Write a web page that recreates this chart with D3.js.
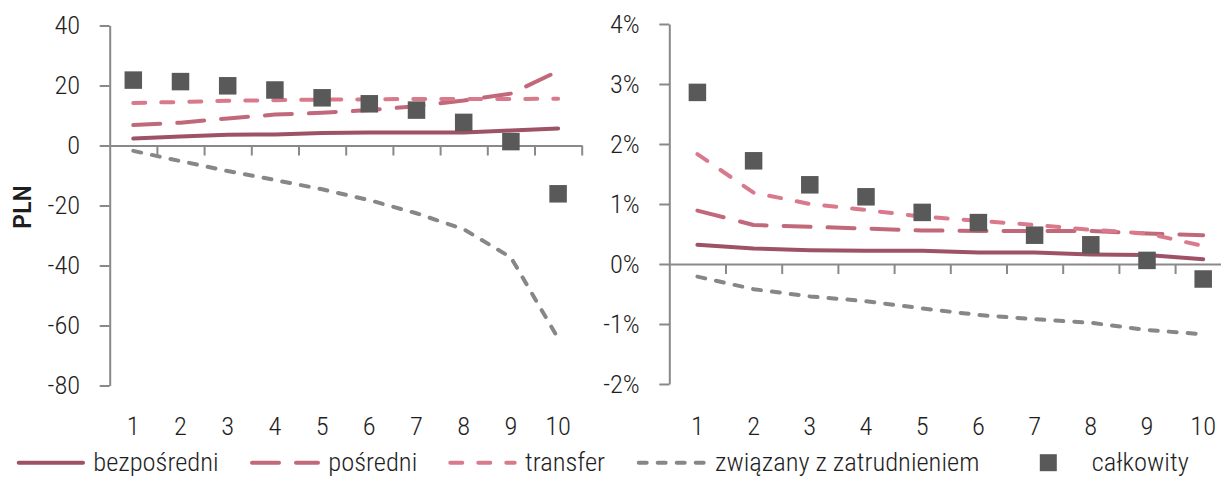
<!DOCTYPE html>
<html><head><meta charset="utf-8">
<script src="https://cdn.jsdelivr.net/npm/d3@7"></script>
<style>
html,body{margin:0;padding:0;background:#fff;}
svg{display:block;}
text{font-family:"Roboto Condensed","Liberation Sans Narrow","Roboto",sans-serif;font-weight:300;fill:#1e1e1e;}
</style></head>
<body><svg id="c" width="1221" height="477"></svg>
<script>
const categories = [1,2,3,4,5,6,7,8,9,10];
const seriesNames = ["bezpośredni","pośredni","transfer","związany z zatrudnieniem","całkowity"];

// Left panel (PLN)
const leftBezposredni = [2.3,3.0,3.6,3.7,4.2,4.3,4.3,4.3,5.0,5.7];
const leftPosredni    = [6.8,7.6,9.0,10.3,10.9,11.8,13.1,15.0,17.3,24.8];
const leftTransfer    = [14.2,14.5,14.9,15.1,15.3,15.4,15.5,15.5,15.5,15.6];
const leftZwiazany    = [-1.8,-5.2,-8.5,-11.5,-14.6,-18.2,-22.6,-27.9,-37.3,-64.3];
const leftCalkowity   = [21.8,21.3,19.9,18.5,15.9,13.9,11.8,7.7,1.3,-16.1];
const leftTicks = [40,20,0,-20,-40,-60,-80];

// Right panel (%)
const rightBezposredni = [0.32,0.26,0.23,0.22,0.22,0.19,0.19,0.16,0.15,0.08];
const rightPosredni    = [0.89,0.65,0.62,0.59,0.56,0.55,0.55,0.55,0.51,0.48];
const rightTransfer    = [1.83,1.19,1.00,0.90,0.79,0.72,0.65,0.57,0.51,0.30];
const rightZwiazany    = [-0.21,-0.42,-0.54,-0.62,-0.74,-0.85,-0.92,-0.98,-1.10,-1.17];
const rightCalkowity   = [2.86,1.72,1.32,1.12,0.86,0.69,0.48,0.32,0.06,-0.25];
const rightTicks = [4,3,2,1,0,-1,-2];

const colors = ["#9e5265","#c1697a","#d9798c","#878787","#595959"];
const dashes = [null,"27,17","12,16","8,11"];
const FONT = 26.5;
const SX = 1.0;

const svg = d3.select("#c");

function condense(sel){
  sel.each(function(){
    const t = d3.select(this);
    const x = +t.attr("x") || 0;
    t.attr("transform", `translate(${x},0) scale(${SX},1) translate(${-x},0)`);
  });
}
function fmtMinus(s){ return s.replace("\u2212","-"); }

function panel(cfg){
  const g = svg.append("g");
  const x0 = cfg.x0, bw = cfg.bw;
  const xLin = d3.scaleLinear().domain([0,10]).range([x0, x0+10*bw]);
  const xBand = d3.scaleBand().domain(categories).range([x0, x0+10*bw]);
  const y = d3.scaleLinear().domain(cfg.domain).range([cfg.yTop, cfg.yBot]);

  // y axis
  const ya = g.append("g").attr("transform",`translate(${x0},0)`)
    .call(d3.axisLeft(y).tickValues(cfg.ticks).tickSize(10).tickSizeOuter(0).tickPadding(19.5)
      .tickFormat(d=>fmtMinus(cfg.fmt(d))));
  ya.select(".domain").attr("stroke","#898989").attr("stroke-width",2);
  ya.selectAll(".tick line").attr("stroke","#898989").attr("stroke-width",2);
  ya.selectAll(".tick text").attr("font-size",FONT).call(condense);

  // x axis at zero
  const xa = g.append("g").attr("transform",`translate(0,${y(0)})`)
    .call(d3.axisBottom(xLin).tickValues(d3.range(1,11)).tickSize(10).tickSizeOuter(0).tickFormat(""));
  xa.select(".domain").attr("stroke","#898989").attr("stroke-width",2);
  xa.selectAll(".tick line").attr("stroke","#898989").attr("stroke-width",2);

  // category labels at bottom
  const xl = g.append("g").attr("transform",`translate(0,410)`)
    .call(d3.axisBottom(xBand).tickSize(0).tickPadding(6.5));
  xl.select(".domain").remove();
  xl.selectAll(".tick text").attr("font-size",FONT).call(condense);

  const cx = (d,i)=> xBand(categories[i]) + xBand.bandwidth()/2;
  const line = d3.line().x((d,i)=>cx(d,i)).y(d=>y(d));
  cfg.lines.forEach((arr,k)=>{
    g.append("path").datum(arr).attr("d",line)
      .attr("fill","none").attr("stroke",colors[k]).attr("stroke-width",4)
      .attr("stroke-linecap","round").attr("stroke-linejoin","round")
      .attr("stroke-dasharray",dashes[k]);
  });
  const ms = 17.5;
  g.selectAll("rect.m").data(cfg.total).join("rect").attr("class","m")
    .attr("x",(d,i)=>cx(d,i)-ms/2).attr("y",d=>y(d)-ms/2)
    .attr("width",ms).attr("height",ms).attr("fill",colors[4]);
}

panel({x0:109.7,bw:47.2,domain:[40,-80],yTop:25.5,yBot:385.5,ticks:leftTicks,fmt:d3.format("d"),
  lines:[leftBezposredni,leftPosredni,leftTransfer,leftZwiazany],total:leftCalkowity});
panel({x0:669.3,bw:56.2,domain:[4,-2],yTop:24,yBot:384,ticks:rightTicks,fmt:d=>d3.format("d")(d)+"%",
  lines:[rightBezposredni,rightPosredni,rightTransfer,rightZwiazany],total:rightCalkowity});

// PLN axis title
svg.append("text").attr("transform","translate(31,207) rotate(-90)")
  .attr("text-anchor","middle").attr("font-size",FONT).style("font-weight",500).text("PLN");

// Legend
const legY = 462.7;
const legItems = [
  {x1:16.7,x2:85,tx:93.3},
  {x1:250,x2:320,tx:328.3},
  {x1:448.3,x2:516.7,tx:525},
  {x1:636.7,x2:706.7,tx:715},
  {mx:1048.3,tx:1091.7}
];
const lg = svg.append("g");
legItems.forEach((it,k)=>{
  if(k<4){
    lg.append("line").attr("x1",it.x1+2).attr("x2",it.x2-2).attr("y1",legY).attr("y2",legY)
      .attr("stroke",colors[k]).attr("stroke-width",4).attr("stroke-linecap","round")
      .attr("stroke-dasharray",dashes[k]);
  } else {
    lg.append("rect").attr("x",it.mx-8.5).attr("y",legY-8.5).attr("width",17).attr("height",17).attr("fill",colors[4]);
  }
  lg.append("text").attr("x",it.tx).attr("y",legY).attr("dy","0.33em").attr("font-size",FONT)
    .attr("text-anchor","start").text(seriesNames[k]).call(condense);
});
</script></body></html>
